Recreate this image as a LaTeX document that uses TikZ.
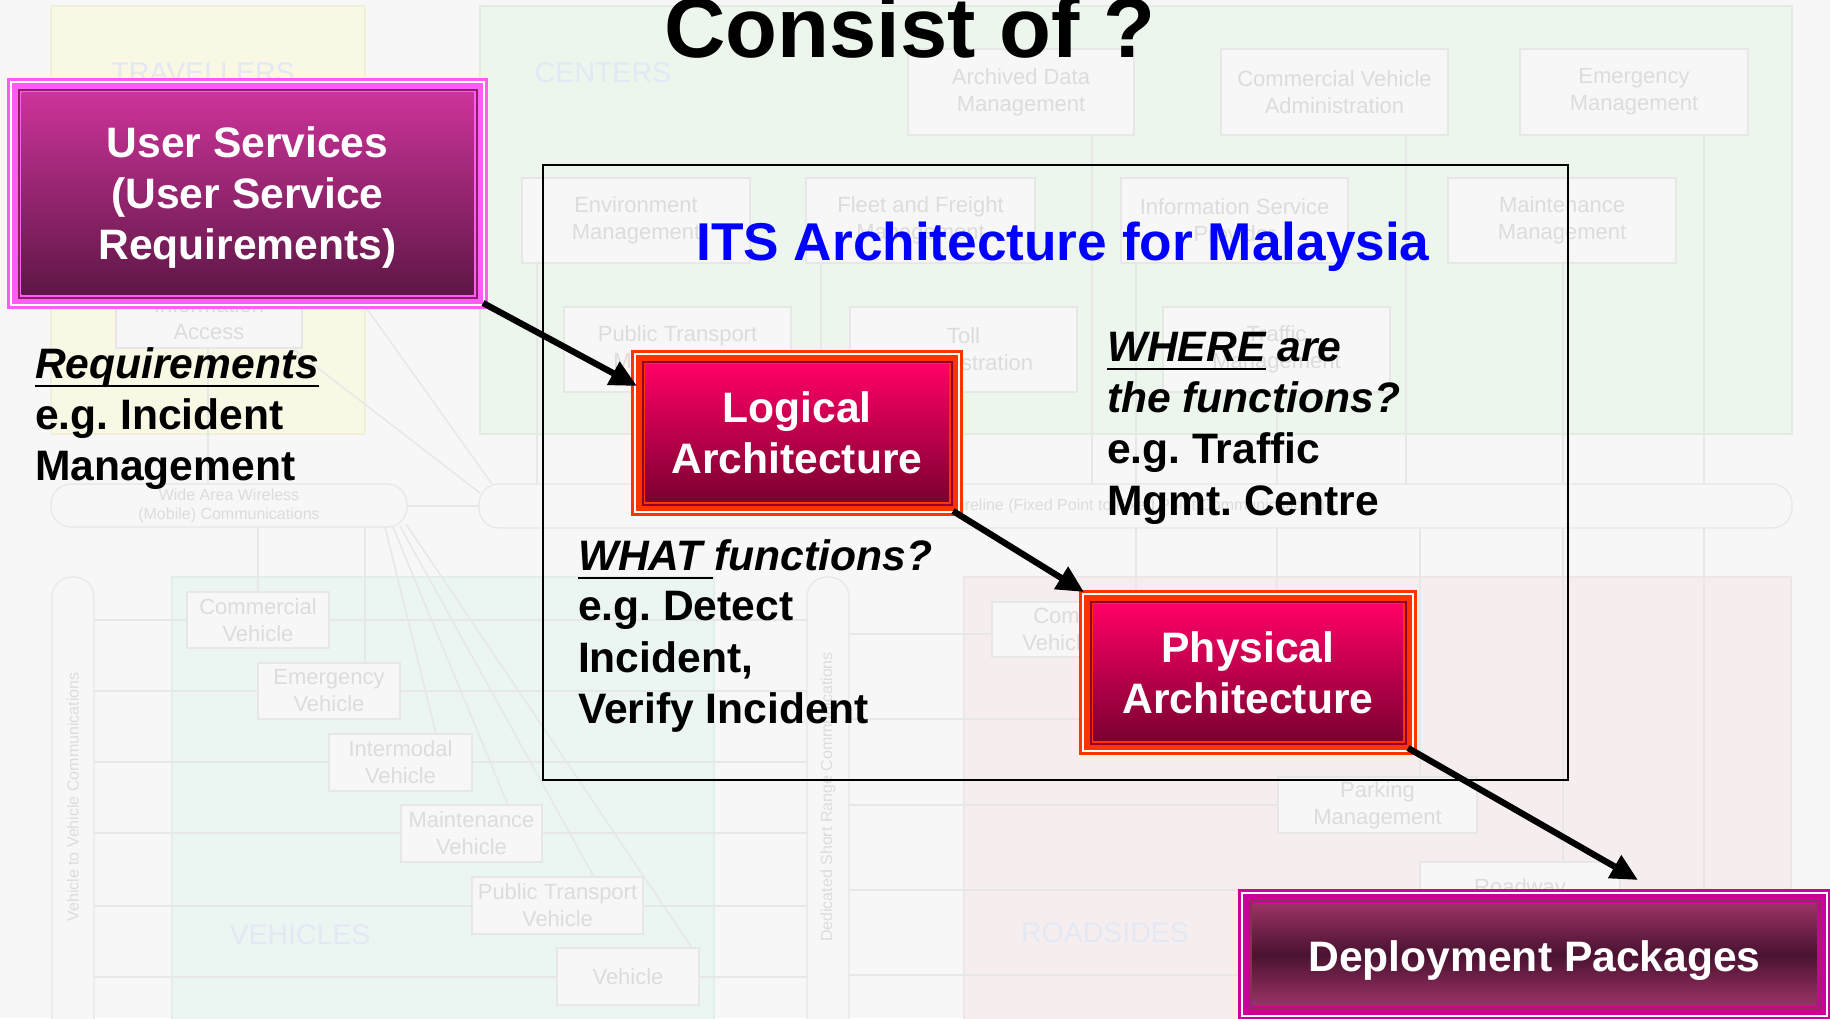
\documentclass[tikz,border=0pt]{standalone}
\usepackage{fontspec}
\setmainfont{Liberation Sans}
\usetikzlibrary{arrows.meta,calc}
\frenchspacing
\definecolor{pagebg}{HTML}{F7F7F7}
\definecolor{bgline}{HTML}{E7E7E7}
\definecolor{bgtext}{HTML}{DCDCDC}
\definecolor{bglabel}{HTML}{E3E8F5}
\definecolor{travfill}{HTML}{F8F8E5}
\definecolor{travline}{HTML}{EFEFDA}
\definecolor{centfill}{HTML}{ECF6EC}
\definecolor{centline}{HTML}{E2EEE2}
\definecolor{vehfill}{HTML}{EBF6F2}
\definecolor{vehline}{HTML}{E2EEEA}
\definecolor{roadfill}{HTML}{F6EEEE}
\definecolor{roadline}{HTML}{EEE6E6}
\definecolor{usband}{HTML}{FF5CF4}
\definecolor{usdark}{HTML}{8A1F66}
\definecolor{ustop}{HTML}{CC3399}
\definecolor{usbot}{HTML}{5E1746}
\definecolor{laband}{HTML}{FF3300}
\definecolor{ladark}{HTML}{8F0033}
\definecolor{latop}{HTML}{FF0066}
\definecolor{labot}{HTML}{7A0030}
\definecolor{dpband}{HTML}{CC0099}
\definecolor{dpdark}{HTML}{8E2C60}
\definecolor{dptop}{HTML}{9B3366}
\definecolor{dpmid}{HTML}{4A1230}
\definecolor{itsblue}{HTML}{0000FF}
\tikzset{
  bgbox/.style={draw=bgline, fill=pagebg, line width=1.2pt, inner sep=0pt, outer sep=0pt, align=center, text=bgtext, font=\fontsize{22}{27}\selectfont},
  bus/.style={draw=bgline, fill=pagebg, line width=1.2pt, rounded corners=20pt, inner sep=0pt, outer sep=0pt, align=center, text=bgtext, font=\fontsize{16}{19}\selectfont},
  bustext/.style={inner sep=0pt, text=bgtext, font=\fontsize{16}{19}\selectfont},
  region/.style={inner sep=0pt, text=bglabel, font=\fontsize{28.5}{30}\selectfont},
  bgwire/.style={draw=bgline, line width=1.5pt},
  bigtext/.style={anchor=base west, inner sep=0pt, outer sep=0pt, font=\fontsize{42.6}{51}\selectfont\bfseries},
  boxtext/.style={text=white, align=center, inner sep=0pt, outer sep=0pt, font=\fontsize{42.6}{51}\selectfont\bfseries},
  arr/.style={-{Triangle[length=27pt,width=25pt]}, line width=6.3pt, black},
  layered/.style n args={5}{draw=#1, fill=#1, line width=1.5pt,
    path picture={
      \path (path picture bounding box.north west) coordinate (pA)
            (path picture bounding box.south east) coordinate (pB);
      \draw[white, line width=2pt] ($(pA)+(3,3)$) rectangle ($(pB)+(-3,-3)$);
      \fill[#2] ($(pA)+(9.5,9.5)$) rectangle ($(pB)+(-9.5,-9.5)$);
      \fill[#1] ($(pA)+(11.5,11.5)$) rectangle ($(pB)+(-11.5,-11.5)$);
      \fill[top color=#3, bottom color=#4, middle color=#5] ($(pA)+(13.5,13.5)$) rectangle ($(pB)+(-13.5,-13.5)$);
    }}
}
\newcommand\mybox[6]{\node[bgbox, minimum width={#4-#2}, minimum height={#5-#3}] (#1) at ({(#2+#4)/2},{(#3+#5)/2}) {#6};}
\newcommand\mybus[6]{\node[bus, minimum width={#4-#2}, minimum height={#5-#3}] (#1) at ({(#2+#4)/2},{(#3+#5)/2}) {#6};}
\begin{document}
\begin{tikzpicture}[x=1pt,y=-1pt]
\useasboundingbox (0,0) rectangle (1830,1018);
\fill[pagebg] (0,0) rectangle (1830,1018);
% ---------- faded background architecture ----------
\draw[fill=travfill, draw=travline, line width=1.2pt] (51,6) rectangle (365,434);
\draw[fill=centfill, draw=centline, line width=1.2pt] (480,6) rectangle (1792,434);
\draw[fill=vehfill, draw=vehline, line width=1.2pt] (172,577) rectangle (714,1030);
\draw[fill=roadfill, draw=roadline, line width=1.2pt] (964,577) rectangle (1791,1030);
\node[region] (lbltrav) at (203,73) {TRAVELLERS};
\node[region] (lblcent) at (603,73) {CENTERS};
\node[region] (lblveh) at (300,935) {VEHICLES};
\node[region] (lblroad) at (1105,933) {ROADSIDES};
% wires
\draw[bgwire] (208,348) -- (208,484);
\draw[bgwire] (350,285) -- (492,484);
\draw[bgwire] (292,348) -- (480,493);
\draw[bgwire] (407,506) -- (480,506);
\foreach \x/\a in {537/263, 821/263, 1092/135, 1136/263, 1277/392, 1406/135, 1563/263, 1704/135}
  \draw[bgwire] (\x,\a) -- (\x,484);
\foreach \x/\b in {1136/602, 1277/700, 1420/777, 1563/862, 1704/1018}
  \draw[bgwire] (\x,528) -- (\x,\b);
\draw[bgwire] (258,527) -- (258,592);
\draw[bgwire] (365,527) -- (365,663);
\draw[bgwire] (385,527) -- (436,734);
\draw[bgwire] (393,527) -- (508,805);
\draw[bgwire] (400,526) -- (594,877);
\draw[bgwire] (406,524) -- (692,948);
\foreach \y in {620,691,762,833,906,977}
  \draw[bgwire] (94,\y) -- (807,\y);
\foreach \y/\e in {634/992, 719/1135, 805/1278, 890/1420, 975/1300}
  \draw[bgwire] (849,\y) -- (\e,\y);
% buses
\mybus{waw}{51}{484}{407}{527}{Wide Area Wireless\\(Mobile) Communications}
\mybus{wl}{479}{484}{1792}{528}{Wireline (Fixed Point to Fixed Point Communications)}
\node[bus, minimum width=42, minimum height=470] (v2v) at (73,812) {};
\node[bustext, rotate=90] (v2vt) at (73,797) {Vehicle to Vehicle Communications};
\node[bus, minimum width=42, minimum height=470] (dsrc) at (828,812) {};
\node[bustext, rotate=90] (dsrct) at (828,797) {Dedicated Short Range Communications};
% boxes
\mybox{pia}{116}{262}{302}{348}{Personal\\Information\\Access}
\mybox{arch}{908}{49}{1134}{135}{Archived Data\\Management}
\mybox{cva}{1221}{49}{1448}{135}{Commercial Vehicle\\Administration}
\mybox{emm}{1520}{49}{1748}{135}{Emergency\\Management}
\mybox{env}{522}{178}{750}{263}{Environment\\Management}
\mybox{ffm}{806}{178}{1035}{263}{Fleet and Freight\\Management}
\mybox{isp}{1121}{178}{1348}{263}{Information Service\\Provider}
\mybox{mnm}{1448}{178}{1676}{263}{Maintenance\\Management}
\mybox{ptm}{564}{307}{791}{392}{Public Transport\\Management}
\mybox{tla}{850}{307}{1077}{392}{Toll\\Administration}
\mybox{trm}{1163}{307}{1390}{392}{Traffic\\Management}
\mybox{cv}{187}{592}{329}{648}{Commercial\\Vehicle}
\mybox{ev}{258}{663}{400}{719}{Emergency\\Vehicle}
\mybox{iv}{329}{734}{472}{791}{Intermodal\\Vehicle}
\mybox{mv}{401}{805}{542}{862}{Maintenance\\Vehicle}
\mybox{ptv}{472}{877}{643}{934}{Public Transport\\Vehicle}
\mybox{veh}{557}{948}{699}{1005}{Vehicle}
\mybox{cvc}{992}{602}{1192}{657}{Commercial\\Vehicle Check}
\mybox{pkm}{1278}{777}{1477}{833}{Parking\\Management}
\mybox{rdw}{1420}{862}{1620}{916}{Roadway}
% ---------- foreground ----------
\node[draw=black, line width=2.5pt, minimum width=1025, minimum height=615, inner sep=0pt, outer sep=0pt] (frame) at (1055.5,472.5) {};
\node[anchor=base, inner sep=0pt, font=\fontsize{85}{100}\selectfont\bfseries] (title) at (910,57) {Consist of ?};
\node[anchor=base, inner sep=0pt, text=itsblue, font=\fontsize{53.2}{60}\selectfont\bfseries] (its) at (1063,260) {ITS Architecture for Malaysia};

\node[layered={usband}{usdark}{ustop}{usbot}{ustop!50!usbot}, boxtext, minimum width=479, minimum height=229, text depth=0pt] (us) at (247.5,193.5) {User Services\\(User Service\\Requirements)};
\node[layered={laband}{ladark}{latop}{labot}{latop!50!labot}, boxtext, minimum width=330, minimum height=164] (la) at (797,433) {Logical\\Architecture};
\node[layered={laband}{ladark}{latop}{labot}{latop!50!labot}, boxtext, minimum width=336, minimum height=163] (pa) at (1248,672.5) {Physical\\Architecture};
\node[layered={dpband}{dpdark}{dptop}{dptop}{dpmid}, boxtext, minimum width=591, minimum height=129, text height=36pt, text depth=3pt] (dp) at (1534.5,954.5) {Deployment Packages};

% text blocks
\node[bigtext] (rq1) at (35,378) {\itshape Requirements};
\draw[line width=2.5pt] ($(rq1.base west)+(0,8)$) -- ($(rq1.base east)+(0,8)$);
\node[bigtext] (rq2) at (35,429) {e.g. Incident};
\node[bigtext] (rq3) at (35,480) {Management};

\node[bigtext] (wh1a) at (1107,361) {\itshape WHERE};
\node[bigtext] (wh1b) at (wh1a.base east) {\itshape\ are};
\draw[line width=2.5pt] ($(wh1a.base west)+(0,8)$) -- ($(wh1a.base east)+(0,8)$);
\node[bigtext] (wh2) at (1107,412.5) {\itshape the functions?};
\node[bigtext] (wh3) at (1107,463.5) {e.g. Traffic};
\node[bigtext] (wh4) at (1107,515) {Mgmt. Centre};

\node[bigtext] (wa1a) at (578,570) {\itshape WHAT};
\node[bigtext] (wa1b) at (wa1a.base east) {\itshape\ functions?};
\draw[line width=2.5pt] ($(wa1a.base west)+(0,8)$) -- ($(wa1a.base east)+(10,8)$);
\node[bigtext] (wa2) at (578,620) {e.g. Detect};
\node[bigtext] (wa3) at (578,672) {Incident,};
\node[bigtext] (wa4) at (578,723) {Verify Incident};

% arrows
\draw[arr] ($(us.south east)+(-4,-5)$) -- ($(la.north west)+(5,35)$);
\draw[arr] ($(la.south east)+(-9,-4)$) -- ($(pa.north west)+(4,1)$);
\draw[arr] ($(pa.south east)+(-8,-6)$) -- ($(dp.north)+(103.5,-10)$);
\end{tikzpicture}
\end{document}
